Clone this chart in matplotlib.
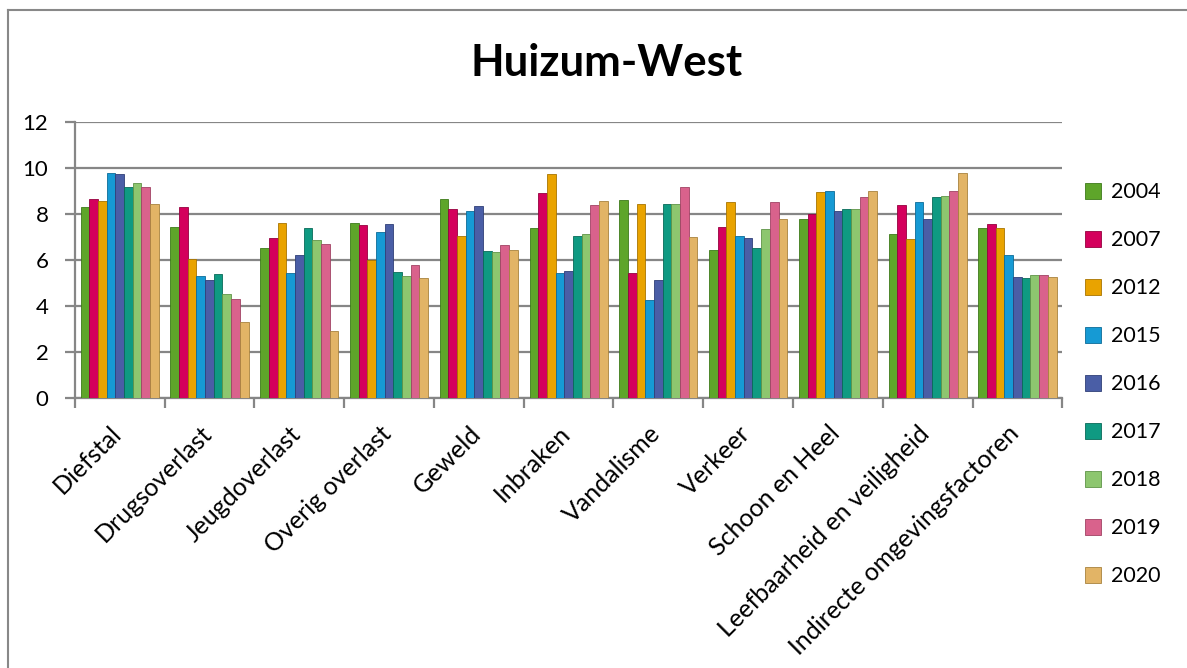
import matplotlib.pyplot as plt
import matplotlib.transforms as mtransforms
import numpy as np
from matplotlib.lines import Line2D

# --- data -----------------------------------------------------------------
categories = ["Diefstal", "Drugsoverlast", "Jeugdoverlast", "Overig overlast",
              "Geweld", "Inbraken", "Vandalisme", "Verkeer", "Schoon en Heel",
              "Leefbaarheid en veiligheid", "Indirecte omgevingsfactoren"]
years = ["2004", "2007", "2012", "2015", "2016", "2017", "2018", "2019", "2020"]

v2004 = [8.30, 7.46, 6.51, 7.62, 8.68, 7.41, 8.62, 6.46, 7.80, 7.13, 7.41]
v2007 = [8.64, 8.30, 6.97, 7.52, 8.23, 8.91, 5.45, 7.46, 8.01, 8.41, 7.58]
v2012 = [8.58, 6.07, 7.62, 6.01, 7.07, 9.77, 8.45, 8.52, 8.97, 6.90, 7.41]
v2015 = [9.81, 5.33, 5.45, 7.23, 8.13, 5.45, 4.26, 7.07, 9.03, 8.52, 6.23]
v2016 = [9.75, 5.12, 6.23, 7.57, 8.35, 5.55, 5.12, 6.97, 8.13, 7.80, 5.29]
v2017 = [9.19, 5.39, 7.41, 5.49, 6.39, 7.07, 8.45, 6.51, 8.23, 8.74, 5.23]
v2018 = [9.36, 4.55, 6.86, 5.30, 6.35, 7.16, 8.45, 7.35, 8.23, 8.80, 5.35]
v2019 = [9.19, 4.32, 6.72, 5.78, 6.67, 8.39, 9.19, 8.52, 8.74, 9.03, 5.35]
v2020 = [8.45, 3.33, 2.91, 5.23, 6.45, 8.58, 7.01, 7.80, 9.03, 9.81, 5.29]
series = [v2004, v2007, v2012, v2015, v2016, v2017, v2018, v2019, v2020]

colors = ["#5ea52a", "#d4005c", "#e9a300", "#169ad4", "#4a5ea6",
          "#0f9a82", "#8dc66f", "#d9628c", "#e2b466"]
edges = ["#3d7a1a", "#96003f", "#a87400", "#0c6c98", "#303f78",
         "#086a58", "#5f9448", "#a04364", "#a8823e"]
# --------------------------------------------------------------------------

plt.rcParams['font.family'] = ['Lato', 'DejaVu Sans']

fig = plt.figure(figsize=(11.87, 6.68), dpi=100)
ax = fig.add_axes([0.063, 0.404, 0.832, 0.413])

n = len(series)
x = np.arange(len(categories))
group_w = 0.87
w = group_w / n
for i, (vals, c, ec, yr) in enumerate(zip(series, colors, edges, years)):
    ax.bar(x - group_w / 2 + w * (i + 0.5), vals, width=w, color=c,
           edgecolor=ec, linewidth=0.6, label=yr, zorder=3)

ax.set_xlim(-0.5, len(categories) - 0.5)
ax.set_ylim(0, 12)
ax.set_yticks(range(0, 13, 2))
ax.yaxis.grid(True, color="#868686", linewidth=1.6, zorder=0)
for s in ["top", "right"]:
    ax.spines[s].set_visible(False)
for s in ["left", "bottom"]:
    ax.spines[s].set_color("#868686")
    ax.spines[s].set_linewidth(1.6)

ax.set_xticks(x)
ax.set_xticklabels(categories, rotation=45, ha="right", rotation_mode="anchor",
                   fontsize=18)
ax.tick_params(axis="x", length=0, pad=17)
shift = mtransforms.ScaledTranslation(-10 / 100, 0, fig.dpi_scale_trans)
for lbl in ax.get_xticklabels():
    lbl.set_transform(lbl.get_transform() + shift)
ax.set_xticks(np.arange(-0.5, len(categories), 1), minor=True)
ax.tick_params(axis="x", which="minor", length=7, color="#868686", width=1.6)
ax.tick_params(axis="y", labelsize=16, length=7, color="#868686", width=1.6,
               pad=12)

fig.text(0.511, 0.905, "Huizum-West", ha="center", va="center",
         fontsize=31.5, fontweight="bold")

ax.legend(loc="center left", bbox_to_anchor=(1.003, 0.05), frameon=False,
          fontsize=15.5, handlelength=0.75, handleheight=0.75,
          labelspacing=1.3, handletextpad=0.45)

# outer frame (left and top edges visible)
fig.add_artist(Line2D([0.0067, 0.0067], [0, 0.985], transform=fig.transFigure,
                      color="#888888", linewidth=1.5))
fig.add_artist(Line2D([0.0067, 1], [0.985, 0.985], transform=fig.transFigure,
                      color="#888888", linewidth=1.5))

fig.savefig("out.png", dpi=100)
